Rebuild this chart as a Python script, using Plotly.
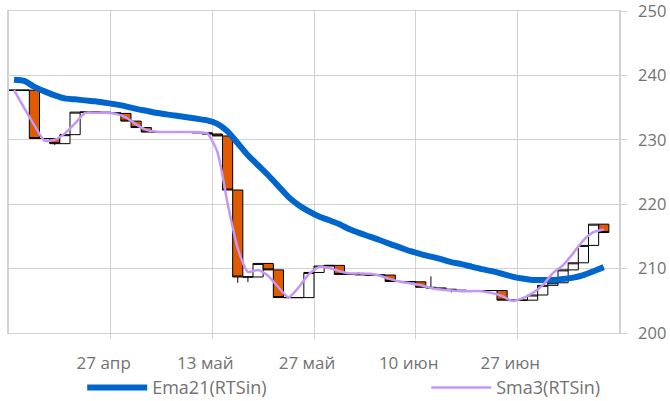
import plotly.graph_objects as go

# ---- data ----
opens = [237.7, 237.7, 237.7, 230.2, 230.2, 229.4, 230.8, 234.3, 234.3, 234.3,
         234.2, 234.1, 232.9, 231.9, 231.2, 231.2, 231.2, 231.2, 231.15, 231.1,
         230.9, 230.6, 222.2, 208.7, 208.7, 210.8, 209.8, 205.5, 205.5, 205.5,
         209.4, 210.4, 210.5, 209.1, 209.1, 209.05, 209.0, 209.0, 208.0, 208.0,
         207.95, 207.1, 207.0, 206.8, 206.65, 206.6, 206.6, 206.6, 206.6, 205.1,
         205.1, 205.1, 205.9, 207.4, 207.8, 209.8, 210.9, 213.6, 216.9]
closes = [237.7, 237.7, 230.2, 230.2, 229.4, 230.8, 234.3, 234.3, 234.3, 234.2,
          234.1, 232.9, 231.9, 231.2, 231.2, 231.2, 231.2, 231.15, 231.1, 230.9,
          230.6, 222.2, 208.7, 208.7, 210.8, 209.8, 205.5, 205.5, 205.5, 209.4,
          210.4, 210.5, 209.1, 209.1, 209.05, 209.0, 209.0, 208.0, 208.0, 207.95,
          207.1, 207.0, 206.8, 206.65, 206.6, 206.6, 206.6, 206.6, 205.1, 205.1,
          205.1, 205.9, 207.4, 207.8, 209.8, 210.9, 213.6, 216.9, 215.6]
# extra wicks: index -> value
wick_high = {41: 208.8}
wick_low = {4: 229.2, 22: 207.8, 23: 207.9, 43: 206.3}

ema21 = [239.33, 239.15, 238.22, 237.52, 236.9, 236.43, 236.28, 236.12, 235.97, 235.74,
         235.5, 235.2, 234.8, 234.5, 234.19, 233.95, 233.72, 233.49, 233.26, 233.02,
         232.48, 231.3, 229.46, 227.6, 226.05, 224.5, 222.8, 221.1, 219.85, 218.9,
         218.1, 217.5, 216.9, 216.1, 215.5, 214.96, 214.4, 213.8, 213.26, 212.7,
         212.25, 211.86, 211.47, 211.0, 210.7, 210.3, 209.92, 209.6, 209.2, 208.76,
         208.45, 208.22, 208.22, 208.22, 208.37, 208.6, 209.0, 209.6, 210.23]
sma3 = [237.7, 234.9, 232.25, 229.85, 230.0, 231.0, 232.56, 234.19, 234.2, 234.19,
        234.03, 233.5, 232.4, 231.55, 231.24, 231.2, 231.2, 231.2, 231.2, 231.0,
        228.1, 220.15, 213.13, 209.5, 209.77, 208.84, 207.1, 205.53, 207.1, 209.15,
        210.23, 210.08, 209.6, 209.26, 209.26, 209.2, 208.9, 208.37, 207.95, 207.7,
        207.4, 207.0, 206.74, 206.6, 206.5, 206.5, 206.5, 206.2, 205.74, 205.0,
        205.38, 206.2, 207.44, 209.3, 210.54, 212.4, 214.4, 215.66, 216.08]

tick_pos = [10, 20, 30, 40, 50]
tick_labels = ["27 апр", "13 май", "27 май", "10 июн", "27 июн"]
y_ticks = [200, 210, 220, 230, 240, 250]

n = len(opens)
xs = [i + 0.5 for i in range(n)]
highs = [max(o, c, wick_high.get(i, -1e9)) for i, (o, c) in enumerate(zip(opens, closes))]
lows = [min(o, c, wick_low.get(i, 1e9)) for i, (o, c) in enumerate(zip(opens, closes))]

FONT = "Open Sans"
GRAY = "#727272"
GRID = "#d2d2d2"

fig = go.Figure()
fig.add_trace(go.Candlestick(
    x=xs, open=opens, high=highs, low=lows, close=closes,
    increasing=dict(fillcolor="white", line=dict(color="black", width=1)),
    decreasing=dict(fillcolor="#e05a00", line=dict(color="black", width=1)),
    whiskerwidth=0, showlegend=False, hoverinfo="skip"))
fig.add_trace(go.Scatter(x=xs, y=ema21, mode="lines", name="Ema21(RTSin)", legend="legend",
                         line=dict(color="#0066cc", width=6, shape="spline", smoothing=0.6)))
fig.add_trace(go.Scatter(x=xs, y=sma3, mode="lines", name="Sma3(RTSin)", legend="legend2",
                         line=dict(color="#c596f5", width=2.5, shape="spline", smoothing=0.6)))

leg_common = dict(orientation="h", xanchor="left", y=-0.17, yanchor="middle",
                  itemwidth=60, font=dict(family=FONT, size=18, color=GRAY),
                  bgcolor="rgba(0,0,0,0)")

fig.update_layout(
    width=670, height=401,
    margin=dict(l=9, r=51, t=11, b=68, autoexpand=False),
    paper_bgcolor="white", plot_bgcolor="white",
    font=dict(family=FONT, size=17, color=GRAY),
    boxgap=0, boxgroupgap=0,
    showlegend=True,
    legend=dict(x=0.12, **leg_common),
    legend2=dict(x=0.684, **leg_common),
    xaxis=dict(range=[0, 60], tickvals=tick_pos, ticktext=tick_labels,
               showgrid=True, gridcolor=GRID, gridwidth=1,
               showline=True, mirror=True, linecolor=GRID, linewidth=1,
               ticks="outside", ticklen=5, tickcolor=GRID,
               ticklabelshift=-7, ticklabelstandoff=10, automargin=False,
               rangeslider=dict(visible=False), zeroline=False, fixedrange=True),
    yaxis=dict(range=[200, 250], tickvals=y_ticks, side="right",
               showgrid=True, gridcolor=GRID, gridwidth=1,
               showline=True, mirror=True, linecolor=GRID, linewidth=1.5,
               ticks="outside", ticklen=6, tickcolor=GRID, automargin=False,
               ticklabeloverflow="allow", tickfont=dict(size=16.5),
               ticklabelstandoff=8, zeroline=False),
)

fig.write_html("out.html", config={"displayModeBar": False},
               post_script="document.body.style.margin='0px';document.body.style.padding='0px';")
